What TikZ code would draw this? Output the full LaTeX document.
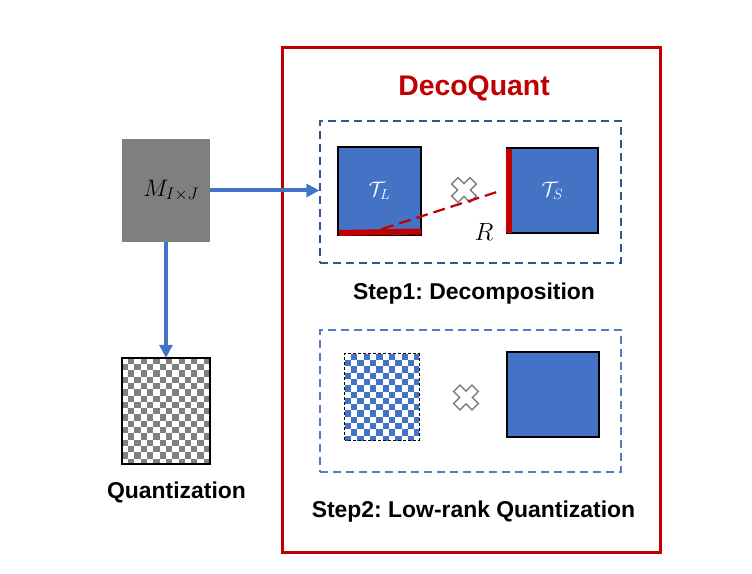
\RequirePackage{fix-cm}
\documentclass[tikz,border=0pt]{standalone}
\usepackage{fontspec}
\setmainfont{Liberation Sans}
\usetikzlibrary{arrows.meta,calc}
\frenchspacing
\definecolor{cellblue}{RGB}{68,114,196}
\definecolor{decored}{RGB}{192,0,0}
\definecolor{stepblue}{RGB}{47,85,151}
\definecolor{steplight}{RGB}{80,125,200}
\definecolor{matgray}{RGB}{127,127,127}
\tikzset{
  matbox/.style={draw=black,line width=1.2bp,fill=cellblue,minimum width=#1,inner sep=0pt},
  stepframe/.style={draw=#1,line width=1.3bp,dash pattern=on 8bp off 5bp,inner sep=0pt},
  flow/.style={draw=cellblue,line width=4bp,-{Triangle[length=13bp,width=13bp]}},
  steplabel/.style={font=\fontsize{23}{27}\selectfont\bfseries},
  redbar/.style={draw=decored,line width=6bp},
  pics/timescross/.style={code={
    \draw[matgray,line width=1.4bp,fill=white,rotate=45]
      (4.5bp,4.5bp) -- (4.5bp,13bp) -- (-4.5bp,13bp) -- (-4.5bp,4.5bp) -- (-13bp,4.5bp)
      -- (-13bp,-4.5bp) -- (-4.5bp,-4.5bp) -- (-4.5bp,-13bp) -- (4.5bp,-13bp)
      -- (4.5bp,-4.5bp) -- (13bp,-4.5bp) -- (13bp,4.5bp) -- cycle;}},
}
\begin{document}
\begin{tikzpicture}[>=latex,line join=miter]
    \useasboundingbox (0bp,0bp) rectangle (752bp,574bp);
    %% left side
    \node (M) at (166bp,383.5bp) [fill=matgray,minimum width=88bp,minimum height=103bp,inner sep=0pt] {\fontsize{24}{28}\selectfont\hspace*{10bp}$M_{I\times J}$};
    \node (qz) at (166bp,163bp) [minimum width=88bp,minimum height=106bp,inner sep=0pt] {};
    \begin{scope}
      \clip (qz.south west) rectangle (qz.north east);
      \foreach \i in {0,...,14}{
        \foreach \j in {0,...,17}{
          \pgfmathtruncatemacro\k{mod(\i+\j,2)}
          \ifnum\k=1 \fill[gray] ($(qz.north west)+(\i*6.3bp,-\j*6.3bp)$) rectangle ++(6.3bp,-6.3bp); \fi
        }
      }
    \end{scope}
    \draw[line width=1.5bp] (qz.south west) rectangle (qz.north east);
    \node (qzlabel) at (176.5bp,82bp) [steplabel] {Quantization};
    %% DecoQuant frame
    \node (deco) at (471bp,273.5bp) [draw=decored,line width=3bp,minimum width=378bp,minimum height=505bp] {};
    \node (decolabel) at (474bp,486bp) [text=decored,font=\fontsize{28.5}{32}\selectfont\bfseries] {DecoQuant};
    %% step 1
    \node (step1) at (470.5bp,382bp) [stepframe=stepblue,minimum width=301bp,minimum height=142bp] {};
    \node (TL) at (379.5bp,383bp) [matbox=83bp,minimum height=88bp] {\fontsize{21}{24}\selectfont\color{white}$\mathcal{T}_L$};
    \node (TS) at (552.5bp,383.5bp) [matbox=91bp,minimum height=85bp] {\fontsize{21}{24}\selectfont\color{white}$\mathcal{T}_S$};
    \draw [redbar] (339bp,341bp) -- (421bp,342.5bp);
    \draw [redbar] (508.5bp,425bp) -- (508.5bp,341bp);
    \coordinate (rl) at (382bp,345bp);
    \coordinate (rs) at (500bp,383bp);
    \pic at (464bp,384bp) {timescross};
    \draw [decored,line width=2.2bp,dash pattern=on 12bp off 6bp] (rl) -- (rs);
    \node (R) at (484bp,342bp) {\fontsize{25}{28}\selectfont$R$};
    \node (step1label) at (474bp,280bp) [steplabel] {Step1: Decomposition};
    %% step 2
    \node (step2) at (470.5bp,173bp) [stepframe=steplight,minimum width=301bp,minimum height=142bp] {};
    \node (qb) at (382bp,177bp) [minimum width=74bp,minimum height=86bp,inner sep=0pt] {};
    \begin{scope}
      \clip (qb.south west) rectangle (qb.north east);
      \foreach \i in {0,...,12}{
        \foreach \j in {0,...,14}{
          \pgfmathtruncatemacro\k{mod(\i+\j,2)}
          \ifnum\k=1 \fill[cellblue] ($(qb.north west)+(\i*6.3bp,-\j*6.3bp)$) rectangle ++(6.3bp,-6.3bp); \fi
        }
      }
    \end{scope}
    \draw[line width=1.2bp,dash pattern=on 3bp off 2bp] (qb.south west) rectangle (qb.north east);
    \pic at (466bp,176.5bp) {timescross};
    \node (LB) at (553bp,179.5bp) [matbox=92bp,minimum height=85bp] {};
    \node (step2label) at (473.5bp,62bp) [steplabel] {Step2: Low-rank Quantization};
    %% arrows
    \draw [flow] (M.east) -- (M.east -| step1.west);
    \draw [flow] (M.south) -- (qz.north);
    %
\end{tikzpicture}
\end{document}
